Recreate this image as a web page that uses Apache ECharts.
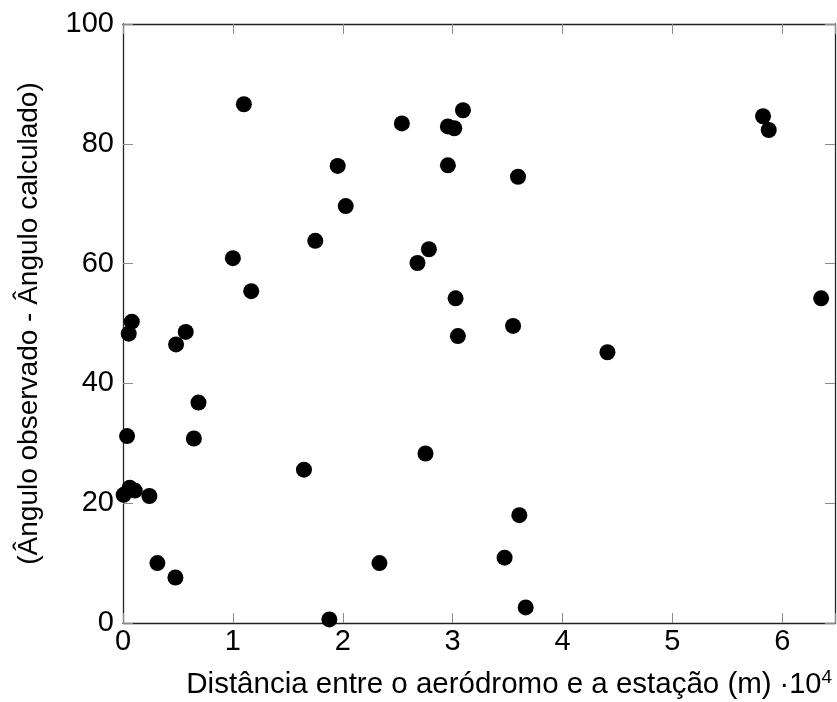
<!DOCTYPE html>
<html>
<head>
<meta charset="utf-8">
<script src="https://cdn.jsdelivr.net/npm/echarts@6/dist/echarts.min.js"></script>
<style>
  html, body { margin: 0; padding: 0; background: #fff; }
  #chart { width: 837px; height: 702px; }
</style>
</head>
<body>
<div id="chart"></div>
<script>
// Distance between aerodrome and station, in metres
const distance = [
  11000, 19540, 20270, 17500, 10000, 11670, 800,
  30940, 25380, 29570, 30150, 29570, 35950, 27840, 26800, 30270, 35500,
  58250, 58770, 63540,
  520, 5710, 4830, 6870, 370, 6450, 16470, 60, 610, 1070, 2400, 3130, 4770, 18780,
  30480, 27530, 36070, 23340, 34730, 36650,
  44090
];
// Observed angle minus calculated angle, in degrees
const angleDiff = [
  86.6, 76.3, 69.6, 63.8, 60.9, 55.4, 50.3,
  85.6, 83.4, 82.9, 82.6, 76.4, 74.5, 62.4, 60.1, 54.2, 49.6,
  84.6, 82.3, 54.2,
  48.3, 48.6, 46.5, 36.8, 31.2, 30.8, 25.6, 21.4, 22.6, 22.1, 21.2, 10.0, 7.6, 0.6,
  47.9, 28.3, 18.0, 10.0, 10.9, 2.6,
  45.2
];
const xTicks = [0, 1, 2, 3, 4, 5, 6];
const yTicks = [0, 20, 40, 60, 80, 100];

const FONT = '"Liberation Sans", Arial, sans-serif';
const points = distance.map((d, i) => [d, angleDiff[i]]);

const chart = echarts.init(document.getElementById('chart'), null, { renderer: 'canvas' });

const tickStyle = { show: true, inside: true, length: 10, lineStyle: { color: '#8c8c8c', width: 1 } };
const lineStyle = { show: true, onZero: false, lineStyle: { color: '#222', width: 1.3 } };
const xScale = { type: 'value', min: 0, max: 64800, interval: 10000 };
const yScale = { type: 'value', min: yTicks[0], max: yTicks[yTicks.length - 1], interval: 20 };

chart.setOption({
  animation: false,
  backgroundColor: '#fff',
  grid: { left: 123, right: 2, top: 24, bottom: 79, containLabel: false, outerBoundsMode: 'none' },
  xAxis: [
    Object.assign({}, xScale, {
      position: 'bottom',
      name: 'Distância entre o aeródromo e a estação (m)',
      nameLocation: 'middle',
      nameGap: 47,
      nameTextStyle: { color: '#000', fontSize: 29.5, fontFamily: FONT },
      axisLine: lineStyle,
      axisTick: tickStyle,
      splitLine: { show: false },
      axisLabel: {
        color: '#000', fontSize: 29, fontFamily: FONT, margin: 4,
        formatter: v => {
          const t = v / 10000;
          return xTicks.indexOf(t) >= 0 ? String(t) : '';
        }
      }
    }),
    Object.assign({}, xScale, {
      position: 'top',
      axisLine: lineStyle,
      axisTick: tickStyle,
      splitLine: { show: false },
      axisLabel: { show: false }
    })
  ],
  yAxis: [
    Object.assign({}, yScale, {
      position: 'left',
      name: '(Ângulo observado - Ângulo calculado)',
      nameLocation: 'middle',
      nameGap: 80,
      nameTextStyle: { color: '#000', fontSize: 28, fontFamily: FONT },
      axisLine: lineStyle,
      axisTick: tickStyle,
      splitLine: { show: false },
      axisLabel: { color: '#000', fontSize: 29, fontFamily: FONT, margin: 9 }
    }),
    Object.assign({}, yScale, {
      position: 'right',
      axisLine: lineStyle,
      axisTick: tickStyle,
      splitLine: { show: false },
      axisLabel: { show: false }
    })
  ],
  graphic: [{
    type: 'text',
    right: 5,
    bottom: 3,
    style: {
      text: '·10{sup|4}',
      fill: '#000',
      font: '29px ' + FONT,
      rich: {
        sup: { fontSize: 19, fontFamily: FONT, verticalAlign: 'top', padding: [0, 0, 14, 0] }
      }
    }
  }],
  series: [{
    type: 'scatter',
    xAxisIndex: 0,
    yAxisIndex: 0,
    symbol: 'circle',
    symbolSize: 16,
    itemStyle: { color: '#000', opacity: 1 },
    clip: false,
    data: points
  }]
});
</script>
</body>
</html>
